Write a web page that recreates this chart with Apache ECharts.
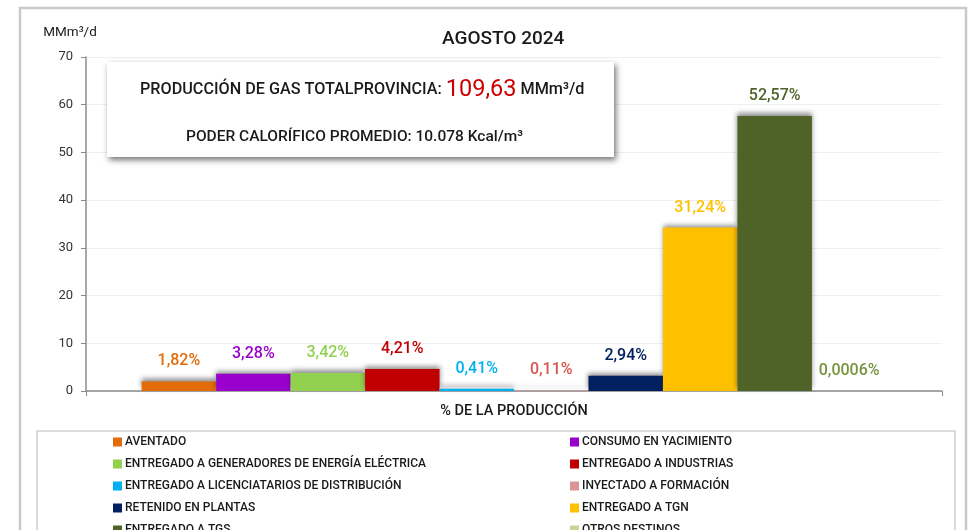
<!DOCTYPE html>
<html>
<head>
<meta charset="utf-8">
<title>Producción de gas - Agosto 2024</title>
<script src="https://cdn.jsdelivr.net/npm/echarts@6/dist/echarts.min.js"></script>
<style>
  html, body { margin: 0; padding: 0; background: #fff; }
  #chart { width: 973px; height: 530px; }
</style>
</head>
<body>
<div id="chart"></div>
<script>
// datos (MMm3/d)
var categorias = ['% DE LA PRODUCCIÓN'];
var destinos = [
  'AVENTADO',
  'CONSUMO EN YACIMIENTO',
  'ENTREGADO A GENERADORES DE ENERGÍA ELÉCTRICA',
  'ENTREGADO A INDUSTRIAS',
  'ENTREGADO A LICENCIATARIOS DE DISTRIBUCIÓN',
  'INYECTADO A FORMACIÓN',
  'RETENIDO EN PLANTAS',
  'ENTREGADO A TGN',
  'ENTREGADO A TGS',
  'OTROS DESTINOS'
];
var valores = [2.0, 3.6, 3.75, 4.62, 0.45, 0.12, 3.22, 34.25, 57.63, 0.0007];
var porcentajes = ['1,82%', '3,28%', '3,42%', '4,21%', '0,41%', '0,11%', '2,94%', '31,24%', '52,57%', '0,0006%'];
var yTicks = [0, 10, 20, 30, 40, 50, 60, 70];

var colores = ['#E26B0A', '#9900CC', '#92D050', '#C00000', '#00B0F0', '#D99694', '#002060', '#FFC000', '#4F6228', '#C4D79B'];
var coloresEtiqueta = ['#E26B0A', '#9900CC', '#92D050', '#C00000', '#00B0F0', '#D9534F', '#002060', '#FFC000', '#4F6228', '#77933C'];

var fuente = 'Roboto, "Noto Sans", sans-serif';
var myChart = echarts.init(document.getElementById('chart'));

var series = [];
for (var i = 0; i < destinos.length; i++) {
  series.push({
    name: destinos[i],
    type: 'bar',
    barGap: '0%',
    barCategoryGap: '13%',
    data: [valores[i]],
    itemStyle: {
      color: colores[i],
      shadowColor: 'rgba(0,0,0,0.45)',
      shadowBlur: 5,
      shadowOffsetY: -3
    },
    label: {
      show: true,
      position: 'top',
      distance: 12,
      fontFamily: fuente,
      fontSize: 16,
      fontWeight: 500,
      color: coloresEtiqueta[i],
      formatter: (function (txt) { return function () { return txt; }; })(porcentajes[i])
    }
  });
}

var legendaIzq = [destinos[0], destinos[2], destinos[4], destinos[6], destinos[8]];
var legendaDer = [destinos[1], destinos[3], destinos[5], destinos[7], destinos[9]];
var estiloLegenda = {
  orient: 'vertical',
  top: 435,
  height: 200,
  padding: 0,
  itemWidth: 9,
  itemHeight: 9,
  itemGap: 8,
  icon: 'rect',
  textStyle: { fontFamily: fuente, fontSize: 12, fontWeight: 500, color: '#1a1a1a', lineHeight: 14, padding: [0, 0, 0, -2] }
};

var option = {
  backgroundColor: '#fff',
  animation: false,
  title: {
    text: 'AGOSTO 2024',
    left: 437,
    top: 25,
    textStyle: { fontFamily: fuente, fontSize: 19, fontWeight: 500, color: '#1a1a1a' }
  },
  legend: [
    Object.assign({ left: 113, data: legendaIzq }, estiloLegenda),
    Object.assign({ left: 570, data: legendaDer }, estiloLegenda)
  ],
  grid: { left: 86, right: 31, top: 57, bottom: 139 },
  xAxis: {
    type: 'category',
    data: categorias,
    axisLine: { lineStyle: { color: '#8c8c8c', width: 1.5 } },
    axisTick: { show: true, length: 5, lineStyle: { color: '#8c8c8c' } },
    axisLabel: { margin: 13, fontFamily: fuente, fontSize: 14.5, fontWeight: 500, color: '#1a1a1a' }
  },
  yAxis: {
    type: 'value',
    min: yTicks[0],
    max: yTicks[yTicks.length - 1],
    interval: 10,
    name: 'MMm³/d',
    nameGap: 17,
    nameTextStyle: { fontFamily: fuente, fontSize: 13.5, color: '#1a1a1a', padding: [0, 32, 0, 0] },
    axisLine: { show: true, lineStyle: { color: '#8c8c8c', width: 1.5 } },
    axisTick: { show: true, length: 5, lineStyle: { color: '#8c8c8c' } },
    axisLabel: { margin: 13, fontFamily: fuente, fontSize: 13, color: '#333' },
    splitLine: { lineStyle: { color: '#efefef' } }
  },
  graphic: [
    // marco exterior
    { type: 'rect', silent: true, z: -10,
      shape: { x: 20, y: 8, width: 946, height: 560 },
      style: { fill: 'none', stroke: '#c9c9c9', lineWidth: 2.5 } },
    // caja de la leyenda
    { type: 'rect', silent: true, z: -5,
      shape: { x: 37, y: 431, width: 918, height: 140 },
      style: { fill: '#fff', stroke: '#cfcfcf', lineWidth: 1.5 } },
    // recuadro de produccion total
    { type: 'rect', z: 50,
      shape: { x: 107, y: 62, width: 507, height: 95 },
      style: { fill: '#fff', shadowColor: 'rgba(0,0,0,0.55)', shadowBlur: 6, shadowOffsetX: 2, shadowOffsetY: 3 } },
    { type: 'text', z: 51, left: 140, top: 78,
      style: {
        text: '{a|PRODUCCIÓN DE GAS TOTALPROVINCIA: }{b|109,63}{a| MMm³/d}',
        rich: {
          a: { fontFamily: fuente, fontSize: 16.2, fontWeight: 500, fill: '#1a1a1a' },
          b: { fontFamily: fuente, fontSize: 23.5, fill: '#CC0000' }
        }
      } },
    { type: 'text', z: 51, left: 186, top: 129,
      style: { text: 'PODER CALORÍFICO PROMEDIO: 10.078 Kcal/m³', fontFamily: fuente, fontSize: 15.5, fontWeight: 500, fill: '#1a1a1a' } }
  ],
  series: series
};
myChart.setOption(option);
</script>
</body>
</html>
